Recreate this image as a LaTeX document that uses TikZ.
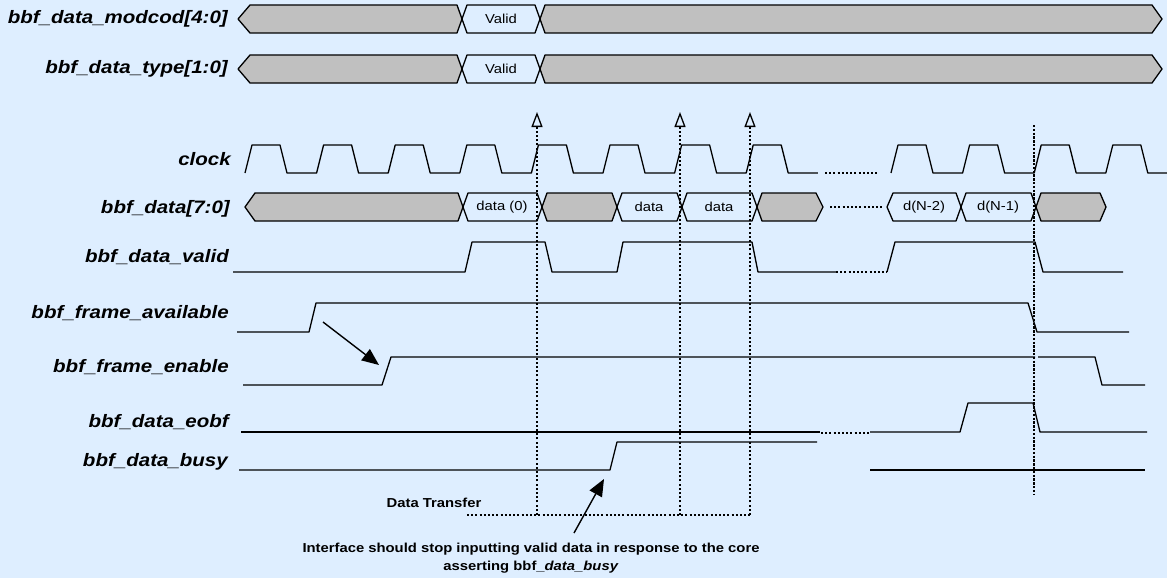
\documentclass[tikz,border=0pt]{standalone}
\usepackage{fontspec}
\setmainfont{Liberation Sans}
\usetikzlibrary{arrows.meta}
\definecolor{bg}{HTML}{DEEEFF}
\definecolor{busgray}{HTML}{C0C0C0}
\newcommand\hs[1]{\scalebox{1.14}[1]{#1}}
\newcommand\busseg[6]{\draw[busline,fill=#1] (#2,#4) -- ({#2+#5},{#4-14}) -- ({#3-#6},{#4-14}) -- (#3,#4) -- ({#3-#6},{#4+14}) -- ({#2+#5},{#4+14}) -- cycle;}
\begin{document}
\begin{tikzpicture}[x=1pt,y=-1pt,
  sig/.style={line width=1.3pt, line join=round},
  busline/.style={line width=1.3pt, line join=round},
  mydot/.style={line width=2pt, dash pattern=on 2pt off 2.2pt},
  vdash/.style={line width=2.3pt, dash pattern=on 2.4pt off 1.4pt},
  lbl/.style={anchor=east, inner sep=0pt, font=\fontsize{18}{20}\selectfont\bfseries\itshape},
  boxtxt/.style={inner sep=0pt, font=\fontsize{13}{15}\selectfont},
  note/.style={inner sep=0pt, font=\fontsize{13}{18}\selectfont\bfseries, align=center},
  openhead/.style={-{Triangle[open,length=15pt,width=11pt,line width=1.3pt]}},
  bigarrow/.style={line width=1.4pt, -{Triangle[length=17pt,width=14pt]}}]
\fill[bg] (0,0) rectangle (1167,578);
\useasboundingbox (0,0) rectangle (1167,578);

% labels
\node[lbl] (lmodcod) at (228,19) {\hs{bbf\_data\_modcod[4:0]}};
\node[lbl] (ltype) at (228,69) {\hs{bbf\_data\_type[1:0]}};
\node[lbl] (lclock) at (231,159) {\hs{clock}};
\node[lbl] (ldata) at (230,209) {\hs{bbf\_data[7:0]}};
\node[lbl] (lvalid) at (229,257) {\hs{bbf\_data\_valid}};
\node[lbl] (lavail) at (229,313) {\hs{bbf\_frame\_available}};
\node[lbl] (lenable) at (229,367) {\hs{bbf\_frame\_enable}};
\node[lbl] (leobf) at (229,422) {\hs{bbf\_data\_eobf}};
\node[lbl] (lbusy) at (228,462) {\hs{bbf\_data\_busy}};

% top buses
\busseg{busgray}{238}{462}{19}{12}{5}
\busseg{bg}{462}{540}{19}{5}{5}
\busseg{busgray}{540}{1162}{19}{5}{10}
\node[boxtxt] (v1) at (501,19) {\hs{Valid}};
\busseg{busgray}{238}{462}{69}{12}{5}
\busseg{bg}{462}{540}{69}{5}{5}
\busseg{busgray}{540}{1162}{69}{5}{10}
\node[boxtxt] (v2) at (501,69) {\hs{Valid}};

% clock
\draw[sig] (245,173) \foreach \r in {245,316.6,388.2,459.8,531.4,603,674.6,746.2} {-- (\r,173) -- ({\r+7},145) -- ({\r+35},145) -- ({\r+42},173) -- ({\r+71.6},173)};
\draw[mydot] (825,173) -- (877,173);
\draw[sig] (891,173) \foreach \r in {891,962.6,1034.2} {-- (\r,173) -- ({\r+7},145) -- ({\r+35},145) -- ({\r+42},173) -- ({\r+71.6},173)}
  -- (1112.8,145) -- (1140.8,145) -- (1147.8,173) -- (1167,173);

% data bus
\busseg{busgray}{245}{463}{207}{10}{5}
\busseg{bg}{463}{542}{207}{5}{5}
\busseg{busgray}{542}{617}{207}{5}{5}
\busseg{bg}{617}{682}{207}{5}{5}
\busseg{bg}{682}{757}{207}{5}{5}
\busseg{busgray}{757}{823}{207}{5}{7}
\draw[mydot] (830,207) -- (882,207);
\busseg{bg}{887}{961}{207}{6}{5}
\busseg{bg}{961}{1036}{207}{5}{5}
\busseg{busgray}{1036}{1106}{207}{5}{6}
\node[boxtxt] (d0) at (502,207) {\hs{data (0)}};
\node[boxtxt] (d1) at (649,207) {\hs{data}};
\node[boxtxt] (d2) at (719,207) {\hs{data}};
\node[boxtxt] (dn2) at (924,207) {\hs{d(N-2)}};
\node[boxtxt] (dn1) at (998,207) {\hs{d(N-1)}};

% valid
\draw[sig] (233,272) -- (465,272) -- (472,242) -- (545,242) -- (552,272) -- (617,272) -- (623,242) -- (752,242) -- (758,272) -- (836,272);
\draw[mydot] (836,272) -- (887,272);
\draw[sig] (887,272) -- (895,242) -- (1035,242) -- (1043,272) -- (1123,272);

% frame available
\draw[sig] (237,332) -- (309,332) -- (316,303) -- (1028,303) -- (1037,332) -- (1129,332);
% frame enable
\draw[sig] (243,385) -- (382,385) -- (391,357) -- (1035,357);
\draw[sig] (1038,357) -- (1095,357) -- (1102,385) -- (1145,385);
\coordinate (a1tail) at (323,322);
\coordinate (a1tip) at (379,365);
\draw[bigarrow] (a1tail) -- (a1tip);

% eobf
\draw[sig] (241,432) -- (820,432);
\draw[mydot] (821,433) -- (870,433);
\draw[sig] (870,432) -- (960,432) -- (968,403) -- (1033,403) -- (1040,432) -- (1147,432);
% busy
\draw[sig] (239,470) -- (610,470) -- (617,442) -- (817,442);
\draw[sig] (870,470) -- (1145,470);

% dotted markers with open heads
\coordinate (m1b) at (537,515); \coordinate (m1t) at (537,112);
\coordinate (m2b) at (680,515); \coordinate (m2t) at (680,112);
\coordinate (m3b) at (750,515); \coordinate (m3t) at (750,112);
\draw[mydot,openhead] (m1b) -- (m1t);
\draw[mydot,openhead] (m2b) -- (m2t);
\draw[mydot,openhead] (m3b) -- (m3t);
\coordinate (dtl) at (467,515);
\draw[mydot] (dtl) -- (m3b);
\node[note] (dt) at (434,503) {\hs{Data Transfer}};

% dashed vertical
\coordinate (vt) at (1034,125); \coordinate (vb) at (1034,495);
\draw[vdash] (vt) -- (vb);

% note
\node[note] (nt) at (531,558) {\hs{Interface should stop inputting valid data in response to the core}\\\hs{asserting bbf\_\textit{data\_busy}}};
\coordinate (a2tail) at (574,533);
\coordinate (a2tip) at (604,479);
\draw[bigarrow] (a2tail) -- (a2tip);
\end{tikzpicture}
\end{document}
